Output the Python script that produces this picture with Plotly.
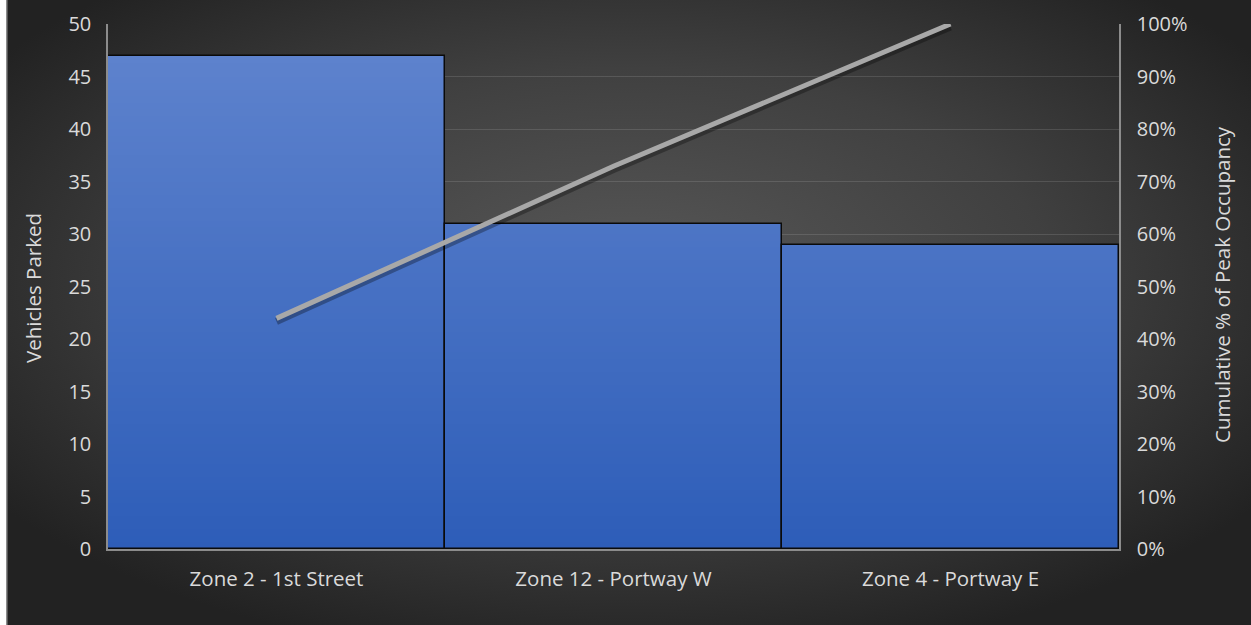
import base64
import numpy as np
import plotly.graph_objects as go

# Parking occupancy by zone (Pareto layout)
zones = ["Zone 2 - 1st Street", "Zone 12 - Portway W", "Zone 4 - Portway E"]
vehicles = [47, 31, 29]
cumulative_pct = list(np.cumsum(vehicles) / sum(vehicles) * 100)

W, H = 1251, 625
L, R, T, B = 108, 132, 24, 76
PW, PH = W - L - R, H - T - B

FONT = "Open Sans"
FS_TICK = 20
FS_TEXT = 20.5
TXT = "#dadada"

# Dark radial-gradient backdrop
svg = f"""<svg xmlns='http://www.w3.org/2000/svg' width='{W-6}' height='{H}' viewBox='0 0 {W-6} {H}' preserveAspectRatio='none'>
<defs><radialGradient id='g' cx='50%' cy='45%' r='62%'>
<stop offset='0' stop-color='#585858'/><stop offset='0.55' stop-color='#404040'/><stop offset='1' stop-color='#222222'/>
</radialGradient></defs>
<rect x='0' y='0' width='{W-6}' height='{H}' fill='url(#g)'/>
<line x1='0.75' y1='0' x2='0.75' y2='{H}' stroke='#8c8c8c' stroke-width='1.5'/>
</svg>"""
bg_src = "data:image/svg+xml;base64," + base64.b64encode(svg.encode()).decode()

fig = go.Figure()

# Vertical blue gradient inside the bars: stack levels from top to bottom
top_rgb = np.array([0x60, 0x84, 0xce])
bot_rgb = np.array([0x2d, 0x5d, 0xb8])
y_max = 50
n_levels = 80
for k in range(n_levels):
    level = y_max * (1 - k / n_levels)
    t = level / y_max
    c = bot_rgb + (top_rgb - bot_rgb) * t
    col = "rgb(%d,%d,%d)" % tuple(c.round().astype(int))
    fig.add_trace(go.Bar(
        x=zones, y=[min(v, level) for v in vehicles],
        marker=dict(color=col, line=dict(width=0)),
        hoverinfo="skip", showlegend=False,
    ))

# Bar outlines
fig.add_trace(go.Bar(
    x=zones, y=vehicles, name="Vehicles Parked",
    marker=dict(color="rgba(0,0,0,0)", line=dict(color="#0a0a0a", width=1.5)),
    showlegend=False,
))

# Soft shadow under the cumulative line (slightly offset downward)
fig.add_trace(go.Scatter(
    x=zones, y=cumulative_pct, yaxis="y2", mode="lines",
    line=dict(color="rgba(0,0,0,0.30)", width=7), hoverinfo="skip", showlegend=False,
))
# Cumulative percentage line
fig.add_trace(go.Scatter(
    x=zones, y=cumulative_pct, yaxis="y3", mode="lines", name="Cumulative %",
    line=dict(color="#a8a8a8", width=5), showlegend=False,
))

fig.update_layout(
    width=W, height=H,
    margin=dict(l=L, r=R, t=T, b=B, pad=0, autoexpand=False),
    paper_bgcolor="white",
    plot_bgcolor="rgba(0,0,0,0)",
    barmode="overlay", bargap=0,
    font=dict(family=FONT, color=TXT, size=FS_TICK),
    xaxis=dict(
        showgrid=False, showline=True, linecolor="#8c8c8c", linewidth=1.5, automargin=False,
        ticks="", tickfont=dict(size=FS_TEXT, color=TXT), ticklabelstandoff=11,
    ),
    yaxis=dict(
        range=[0, 50], dtick=5, showgrid=True, gridcolor="rgba(255,255,255,0.12)", gridwidth=1,
        showline=True, linecolor="#8c8c8c", linewidth=1.5, zeroline=False, automargin=False,
        ticks="", tickfont=dict(size=FS_TICK, color=TXT), ticklabelstandoff=11,
    ),
    yaxis2=dict(range=[0.6, 100.6], overlaying="y", visible=False, automargin=False),
    yaxis3=dict(
        range=[0, 100], dtick=10, ticksuffix="%", overlaying="y", side="right",
        showgrid=False, showline=True, linecolor="#8c8c8c", linewidth=1.5, zeroline=False,
        automargin=False,
        ticks="", tickfont=dict(size=FS_TICK, color=TXT), ticklabelstandoff=12,
    ),
    images=[dict(
        source=bg_src, xref="paper", yref="paper",
        x=(6 - L) / PW, y=1 + T / PH, sizex=(W - 6) / PW, sizey=H / PH,
        xanchor="left", yanchor="top", sizing="stretch", layer="below",
    )],
    annotations=[
        dict(text="Vehicles Parked", xref="paper", yref="paper",
             x=(33 - L) / PW, y=(549 - 288) / PH, textangle=-90, showarrow=False,
             xanchor="center", yanchor="middle", font=dict(size=FS_TEXT, color=TXT)),
        dict(text="Cumulative % of Peak Occupancy", xref="paper", yref="paper",
             x=(1222 - L) / PW, y=(549 - 285) / PH, textangle=-90, showarrow=False,
             xanchor="center", yanchor="middle", font=dict(size=FS_TEXT, color=TXT)),
    ],
)

fig.write_html("out.html")
